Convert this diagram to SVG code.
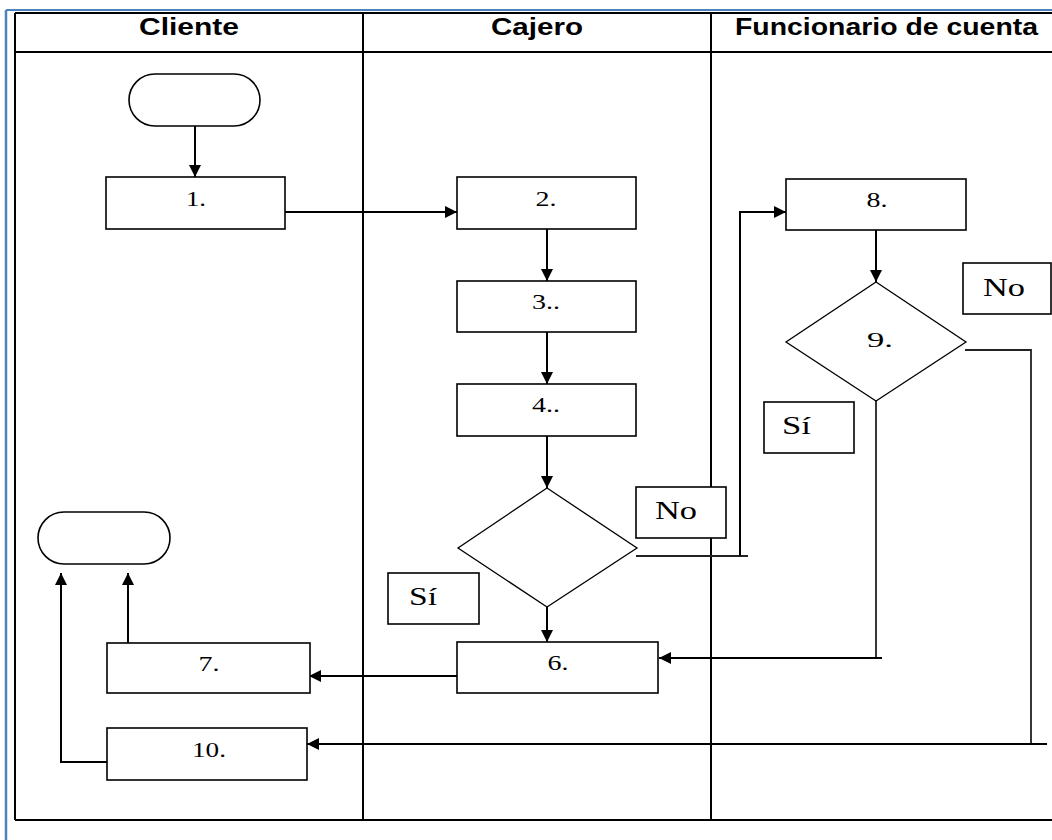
<svg xmlns="http://www.w3.org/2000/svg" width="1052" height="840" viewBox="0 0 1052 840">
<style>
.lane{stroke:#000;stroke-width:2;fill:none}
.box{fill:#fff;stroke:#000;stroke-width:1.6}
.dia{fill:#fff;stroke:#000;stroke-width:1.3}
.conn{stroke:#000;stroke-width:2;fill:none}
.thin{stroke:#222;stroke-width:1.8;fill:none}
.hdr{font-family:"Liberation Sans",Arial,sans-serif;font-weight:bold;font-size:23px;fill:#000}
.lbl{font-family:"Liberation Serif","Times New Roman",serif;font-size:22px;fill:#000;text-anchor:middle}
.yn{font-family:"Liberation Serif","Times New Roman",serif;font-size:26px;fill:#000}
</style>
<defs>
<marker id="ah" markerUnits="userSpaceOnUse" markerWidth="12" markerHeight="12" refX="12" refY="6" orient="auto">
<path d="M0,0 L12,6 L0,12 Z" fill="#000"/>
</marker>
</defs>
<rect width="1052" height="840" fill="#fff"/>
<g id="frame">
<line x1="6" y1="10" x2="1052" y2="10" stroke="#4f81bd" stroke-width="2"/>
<line x1="6" y1="10" x2="6" y2="840" stroke="#4f81bd" stroke-width="2.5"/>
<line class="lane" x1="15" y1="13" x2="1052" y2="13"/>
<line class="lane" x1="15" y1="52" x2="1052" y2="52"/>
<line class="lane" x1="15" y1="820" x2="1052" y2="820"/>
<line class="lane" x1="15" y1="13" x2="15" y2="820"/>
<line class="lane" x1="363" y1="13" x2="363" y2="820"/>
<line class="lane" x1="711" y1="13" x2="711" y2="820"/>
<text class="hdr" x="139" y="35" textLength="100" lengthAdjust="spacingAndGlyphs">Cliente</text>
<text class="hdr" x="491" y="35" textLength="92" lengthAdjust="spacingAndGlyphs">Cajero</text>
<text class="hdr" x="735" y="35" textLength="303" lengthAdjust="spacingAndGlyphs">Funcionario de cuenta</text>
</g>
<g id="connectors">
<line class="conn" x1="195" y1="126" x2="195" y2="177" marker-end="url(#ah)"/>
<line class="conn" x1="285" y1="212" x2="457" y2="212" marker-end="url(#ah)"/>
<line class="conn" x1="547" y1="229" x2="547" y2="281" marker-end="url(#ah)"/>
<line class="conn" x1="547" y1="332" x2="547" y2="384" marker-end="url(#ah)"/>
<line class="conn" x1="547" y1="436" x2="547" y2="488" marker-end="url(#ah)"/>
<line class="conn" x1="547" y1="607" x2="547" y2="642" marker-end="url(#ah)"/>
<line class="thin" x1="636" y1="556" x2="748" y2="556"/>
<polyline class="conn" points="740,556 740,212 786,212" marker-end="url(#ah)"/>
<line class="conn" x1="876" y1="230" x2="876" y2="282" marker-end="url(#ah)"/>
<polyline class="thin" points="965,350 1031,350 1031,744"/>
<line class="conn" x1="1047" y1="744" x2="307" y2="744" marker-end="url(#ah)"/>
<line class="thin" x1="876" y1="401" x2="876" y2="658"/>
<line class="conn" x1="882" y1="658" x2="659" y2="658" marker-end="url(#ah)"/>
<line class="conn" x1="463" y1="676" x2="309" y2="676" marker-end="url(#ah)"/>
<line class="conn" x1="128" y1="643" x2="128" y2="573" marker-end="url(#ah)"/>
<polyline class="conn" points="107,762 61,762 61,573" marker-end="url(#ah)"/>
</g>
<g id="start"><rect class="box" x="129" y="74" width="131" height="52" rx="26"/></g>
<g id="end"><rect class="box" x="38" y="512" width="132" height="52" rx="26"/></g>
<g id="n1"><rect class="box" x="106" y="177" width="179" height="52"/><text class="lbl" x="196" y="206" textLength="20" lengthAdjust="spacingAndGlyphs">1.</text></g>
<g id="n2"><rect class="box" x="457" y="177" width="179" height="52"/><text class="lbl" x="546" y="206" textLength="21" lengthAdjust="spacingAndGlyphs">2.</text></g>
<g id="n3"><rect class="box" x="457" y="281" width="179" height="51"/><text class="lbl" x="546" y="309" textLength="28" lengthAdjust="spacingAndGlyphs">3..</text></g>
<g id="n4"><rect class="box" x="457" y="384" width="179" height="52"/><text class="lbl" x="546" y="412" textLength="28" lengthAdjust="spacingAndGlyphs">4..</text></g>
<g id="n5"><polygon class="dia" points="547,488 637,548 547,607 458,548"/></g>
<g id="n6"><rect class="box" x="457" y="642" width="201" height="51"/><text class="lbl" x="558" y="670" textLength="21" lengthAdjust="spacingAndGlyphs">6.</text></g>
<g id="n7"><rect class="box" x="107" y="643" width="203" height="50"/><text class="lbl" x="209" y="671" textLength="21" lengthAdjust="spacingAndGlyphs">7.</text></g>
<g id="n8"><rect class="box" x="786" y="179" width="180" height="51"/><text class="lbl" x="877" y="207" textLength="21" lengthAdjust="spacingAndGlyphs">8.</text></g>
<g id="n9"><polygon class="dia" points="876,282 966,342 876,401 786,342"/><text class="lbl" x="880" y="347" textLength="26" lengthAdjust="spacingAndGlyphs">9.</text></g>
<g id="n10"><rect class="box" x="107" y="728" width="200" height="52"/><text class="lbl" x="209" y="757" textLength="34" lengthAdjust="spacingAndGlyphs">10.</text></g>
<g id="no1"><rect class="box" x="636" y="487" width="90" height="51"/><text class="yn" x="655" y="519" textLength="42" lengthAdjust="spacingAndGlyphs">No</text></g>
<g id="no2"><rect class="box" x="963" y="263" width="88" height="51"/><text class="yn" x="983" y="296" textLength="42" lengthAdjust="spacingAndGlyphs">No</text></g>
<g id="si1"><rect class="box" x="388" y="573" width="91" height="51"/><text class="yn" x="409" y="605" textLength="28" lengthAdjust="spacingAndGlyphs">Sí</text></g>
<g id="si2"><rect class="box" x="764" y="402" width="90" height="51"/><text class="yn" x="782" y="434" textLength="29" lengthAdjust="spacingAndGlyphs">Sí</text></g>
</svg>
